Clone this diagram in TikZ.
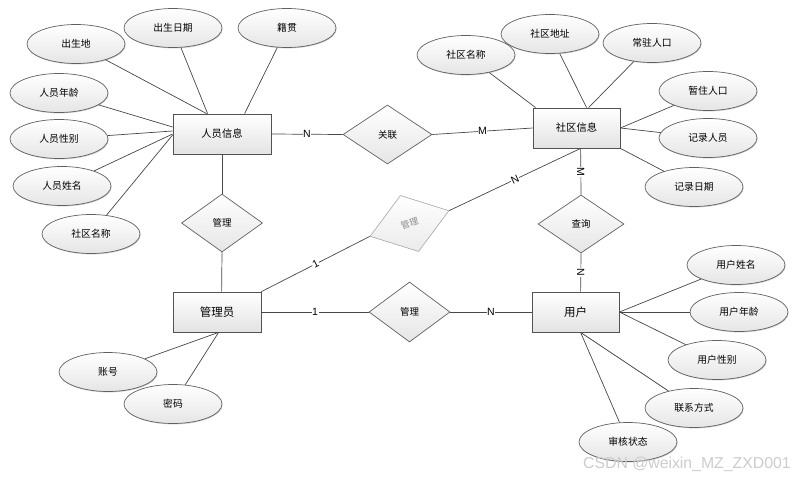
\documentclass[tikz,border=0pt]{standalone}
\usepackage{fontspec}
\setmainfont{Liberation Sans}
\newfontfamily\cjk{Noto Sans CJK SC}
\usetikzlibrary{shapes.geometric,shadows,calc}
\begin{document}
\begin{tikzpicture}[x=1pt,y=-1pt,
  attr/.style={ellipse, draw=black!62, line width=0.7pt, top color=white, bottom color=black!10,
    minimum width=98pt, minimum height=39pt, inner sep=0pt, font=\cjk\fontsize{9.8}{10}\selectfont,
    drop shadow={shadow xshift=0.7pt, shadow yshift=-0.9pt, opacity=0.3, fill=black!60}},
  ent/.style={rectangle, draw=black!68, line width=0.8pt, top color=white, bottom color=black!11,
    minimum height=40pt, inner sep=0pt, font=\cjk\fontsize{10.3}{11}\selectfont,
    drop shadow={shadow xshift=1.2pt, shadow yshift=-1.2pt, opacity=0.3, fill=black!60}},
  bigtxt/.style={font=\cjk\fontsize{11.5}{12}\selectfont},
  rel/.style={diamond, draw=black!62, line width=0.7pt, top color=white, bottom color=black!10,
    inner sep=0pt, font=\cjk\fontsize{9.5}{10}\selectfont},
  faint/.style={diamond, draw=black!35, line width=0.6pt, top color=white, bottom color=black!8,
    inner sep=0pt, text=black!45, font=\cjk\fontsize{9}{10}\selectfont},
  conn/.style={draw=black!72, line width=0.7pt},
  lbl/.style={fill=white, inner sep=0.6pt, font=\fontsize{10.5}{11}\selectfont}
]
\useasboundingbox[fill=white] (0,0) rectangle (798,477);

% entities
\node[ent, minimum width=98pt] (ry) at (222,134) {人员信息};
\node[ent, minimum width=87pt] (sq) at (576.5,128) {社区信息};
\node[ent, bigtxt, minimum width=88pt] (gly) at (217,312) {管理员};
\node[ent, bigtxt, minimum width=87pt] (yh) at (575.5,312) {用户};

% relations
\node[rel, minimum width=89pt, minimum height=59pt] (gl) at (387.5,134.5) {关联};
\node[rel, minimum width=81pt, minimum height=58pt] (gl1) at (222,223) {管理};
\node[rel, minimum width=81pt, minimum height=60pt] (gl2) at (409.5,312) {管理};
\node[rel, minimum width=86pt, minimum height=58pt] (cx) at (581,224) {查询};
\node[faint, rotate=18, minimum width=83pt, minimum height=59pt] (gl3) at (409.5,223.5) {管理};

% attributes
\node[attr] (a1) at (76,44) {出生地};
\node[attr] (a2) at (173,28) {出生日期};
\node[attr] (a3) at (287,28) {籍贯};
\node[attr] (a4) at (59,93) {人员年龄};
\node[attr] (a5) at (59,139) {人员性别};
\node[attr] (a6) at (62,186) {人员姓名};
\node[attr] (a7) at (91,234) {社区名称};

\node[attr] (b1) at (466,55) {社区名称};
\node[attr] (b2) at (550,34) {社区地址};
\node[attr] (b3) at (652,43) {常驻人口};
\node[attr] (b4) at (708,91) {暂住人口};
\node[attr] (b5) at (708,138) {记录人员};
\node[attr] (b6) at (694,187) {记录日期};

\node[attr] (c1) at (736,265) {用户姓名};
\node[attr] (c2) at (739,312) {用户年龄};
\node[attr] (c3) at (717,360) {用户性别};
\node[attr] (c4) at (694,408) {联系方式};
\node[attr] (c5) at (628,442) {审核状态};

\node[attr] (d1) at (108,372) {账号};
\node[attr] (d2) at (173,404) {密码};

% anchor points
\coordinate (ryT1) at ([xshift=34pt]ry.north west);
\coordinate (ryT2) at ([xshift=35pt]ry.north west);
\coordinate (ryT3) at ([xshift=72pt]ry.north west);
\coordinate (ryL1) at ([yshift=7pt]ry.west);
\coordinate (ryL2) at ([yshift=3pt]ry.west);
\coordinate (ryL3) at (ry.west);
\coordinate (ryL4) at ([yshift=-1pt]ry.west);
\coordinate (sqT1) at ([xshift=3pt]sq.north west);
\coordinate (sqT2) at ([xshift=54pt]sq.north west);
\coordinate (sqT3) at ([xshift=56pt]sq.north west);
\coordinate (sqB) at ([xshift=48pt]sq.south west);
\coordinate (yhT) at ([xshift=49pt]yh.north west);
\coordinate (yhB) at ([xshift=49pt]yh.south west);
\coordinate (glyT) at ([xshift=49pt]gly.north west);
\coordinate (glyB) at ([xshift=46pt]gly.south west);

% attribute connectors
\draw[conn] (a1) -- (ryT1);
\draw[conn] (a2) -- (ryT2);
\draw[conn] (a3) -- (ryT3);
\draw[conn] (a4) -- (ryL1);
\draw[conn] (a5) -- (ryL2);
\draw[conn] (a6) -- (ryL3);
\draw[conn] (a7) -- (ryL4);
\draw[conn] (b1) -- (sqT1);
\draw[conn] (b2) -- (sqT2);
\draw[conn] (b3) -- (sqT3);
\draw[conn] (b4) -- (sq.east);
\draw[conn] (b5) -- (sq.east);
\draw[conn] (b6) -- (sq.south east);
\draw[conn] (c1) -- (yh.east);
\draw[conn] (c2) -- (yh.east);
\draw[conn] (c3) -- (yh.east);
\draw[conn] (c4) -- (yhB);
\draw[conn] (c5) -- (yhB);
\draw[conn] (d1) -- (glyB);
\draw[conn] (d2) -- (glyB);

% relationship connectors
\draw[conn] (ry.east) -- node[lbl] (n1) {N} (gl.west);
\draw[conn] (gl.east) -- node[lbl] (n2) {M} (sq.west);
\draw[conn] (ry.south) -- (gl1.north);
\draw[conn] (gl1.south) -- (glyT);
\draw[conn] (sqB) -- node[lbl, rotate=-90] (n3) {M} (cx.north);
\draw[conn] (cx.south) -- node[lbl, rotate=-90] (n4) {N} (yhT);
\draw[conn] (gly.east) -- node[lbl] (n5) {1} (gl2.west);
\draw[conn] (gl2.east) -- node[lbl] (n6) {N} (yh.west);
\draw[conn] (gly.north east) -- node[lbl, sloped] (n7) {1} (gl3.west);
\draw[conn] (gl3.east) -- node[lbl, sloped] (n8) {N} (sqB);

% watermark
\node[anchor=west, text=black!20, font=\fontsize{15.8}{16}\selectfont, inner sep=0pt] (wm) at (583,464) {CSDN @weixin\_MZ\_ZXD001};
\end{tikzpicture}
\end{document}
